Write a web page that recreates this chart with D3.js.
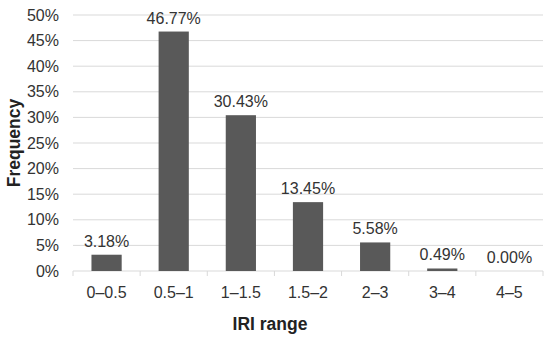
<!DOCTYPE html>
<html><head><meta charset="utf-8">
<script src="https://cdn.jsdelivr.net/npm/d3@7"></script>
<style>body{margin:0;background:#fff}</style>
</head><body>
<svg id="c" width="550" height="344"></svg>
<script>
const categories = ["0\u20130.5","0.5\u20131","1\u20131.5","1.5\u20132","2\u20133","3\u20134","4\u20135"];
const values = [3.18, 46.77, 30.43, 13.45, 5.58, 0.49, 0.00];
const yTicks = [0,5,10,15,20,25,30,35,40,45,50];

const svg = d3.select("#c");
const m = {l:73, r:543, t:15, b:271};
const x = d3.scaleBand().domain(categories).range([m.l, m.r]).paddingInner(0.55).paddingOuter(0.275);
const y = d3.scaleLinear().domain([0,50]).range([m.b, m.t]);
const font = "Liberation Sans, Arial, sans-serif";

// gridlines
svg.append("g").selectAll("line").data(yTicks.filter(d=>d>0)).join("line")
  .attr("x1", m.l).attr("x2", m.r).attr("y1", d=>y(d)).attr("y2", d=>y(d))
  .attr("stroke", "#d9d9d9").attr("stroke-width", 1);

// y axis labels
const ya = svg.append("g").attr("transform", `translate(${m.l},0)`)
  .call(d3.axisLeft(y).tickValues(yTicks).tickFormat(d=>d+"%").tickSize(0).tickPadding(14));
ya.select(".domain").remove();
ya.selectAll("text").attr("font-family", font).attr("font-size", 16).attr("fill", "#333");

// x axis
const xb = d3.scaleBand().domain(categories).range([m.l, m.r]);
svg.append("line").attr("x1", m.l).attr("x2", m.r).attr("y1", m.b).attr("y2", m.b)
  .attr("stroke", "#d9d9d9").attr("stroke-width", 1);
const bounds = categories.map(c=>xb(c)).concat([m.r]);
svg.append("g").selectAll("line").data(bounds).join("line")
  .attr("x1", d=>d).attr("x2", d=>d).attr("y1", m.b).attr("y2", m.b+5)
  .attr("stroke", "#d9d9d9");
svg.append("g").selectAll("text").data(categories).join("text")
  .attr("x", d=>x(d)+x.bandwidth()/2).attr("y", 298)
  .attr("text-anchor", "middle").attr("font-family", font).attr("font-size", 16).attr("fill", "#333")
  .text(d=>d);

// bars
svg.append("g").selectAll("rect").data(values).join("rect")
  .attr("x", (d,i)=>x(categories[i])).attr("width", x.bandwidth())
  .attr("y", d=>y(d)).attr("height", d=>y(0)-y(d))
  .attr("fill", "#595959");

// data labels
svg.append("g").selectAll("text").data(values).join("text")
  .attr("x", (d,i)=>x(categories[i])+x.bandwidth()/2).attr("y", d=>y(d)-8)
  .attr("text-anchor", "middle").attr("font-family", font).attr("font-size", 16).attr("fill", "#333")
  .text(d=>d.toFixed(2)+"%");

// axis titles
svg.append("text").attr("transform", "translate(20,143) rotate(-90)")
  .attr("text-anchor", "middle").attr("font-family", font).attr("font-size", 17.5).attr("font-weight", "bold").attr("fill", "#222")
  .text("Frequency");
svg.append("text").attr("x", 270).attr("y", 330)
  .attr("text-anchor", "middle").attr("font-family", font).attr("font-size", 17.5).attr("font-weight", "bold").attr("fill", "#222")
  .text("IRI range");
</script>
</body></html>
